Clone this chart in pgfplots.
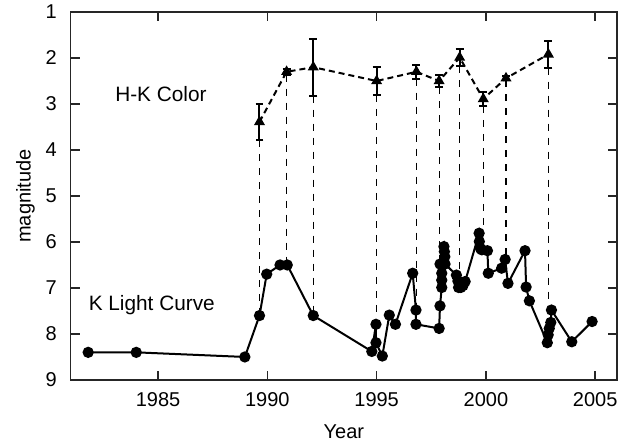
\documentclass[border=0pt]{standalone}
\usepackage{fontspec}
\setmainfont{Liberation Sans}
\usepackage{pgfplots}
\pgfplotsset{compat=1.18}
\begin{document}
\begin{tikzpicture}
\begin{axis}[
  scale only axis, width=273.2pt, height=184pt,
  xmin=1981, xmax=2006, ymin=1, ymax=9, y dir=reverse,
  xtick={1985,1990,1995,2000,2005}, ytick={1,2,3,4,5,6,7,8,9},
  tick align=inside, major tick length=4.5pt,
  axis line style={line width=0.8pt, black!85},
  every tick/.style={line width=0.8pt, black!85},
  /pgf/number format/assume math mode=true,
  /pgf/number format/set thousands separator={},
  xlabel={Year}, ylabel={magnitude},
  x label style={at={(axis description cs:0.5,-0.1413)}, anchor=center},
  y label style={at={(axis description cs:-0.0827,0.5)}, anchor=center},
  yticklabel style={xshift=-3.5pt},
  xticklabel style={yshift=-3pt},
]
% vertical connectors
\addplot[black, line width=0.6pt, dash pattern=on 3.5pt off 3.5pt] coordinates {(1989.64,3.79) (1989.64,7.6)};
\addplot[black, line width=0.6pt, dash pattern=on 3.5pt off 3.5pt] coordinates {(1990.88,2.36) (1990.88,6.5)};
\addplot[black, line width=0.6pt, dash pattern=on 3.5pt off 3.5pt] coordinates {(1992.10,2.82) (1992.10,7.6)};
\addplot[black, line width=0.6pt, dash pattern=on 3.5pt off 3.5pt] coordinates {(1995.00,2.80) (1995.00,7.78)};
\addplot[black, line width=0.6pt, dash pattern=on 3.5pt off 3.5pt] coordinates {(1996.82,2.45) (1996.82,7.46)};
\addplot[black, line width=0.6pt, dash pattern=on 3.5pt off 3.5pt] coordinates {(1997.86,2.64) (1997.86,6.45)};
\addplot[black, line width=0.6pt, dash pattern=on 3.5pt off 3.5pt] coordinates {(1998.80,2.18) (1998.80,6.72)};
\addplot[black, line width=0.6pt, dash pattern=on 3.5pt off 3.5pt] coordinates {(1999.88,3.04) (1999.88,5.75)};
\addplot[black, line width=0.6pt, dash pattern=on 3.5pt off 3.5pt] coordinates {(2000.92,2.48) (2000.92,6.35)};
\addplot[black, line width=0.6pt, dash pattern=on 3.5pt off 3.5pt] coordinates {(2002.86,2.21) (2002.86,7.45)};
% K light curve
\addplot[black, line width=1pt, mark=*, mark size=2.3pt] coordinates {
(1981.80,8.40) (1984.00,8.40) (1988.97,8.50) (1989.64,7.60) (1989.97,6.70)
(1990.58,6.50) (1990.91,6.50) (1992.10,7.60) (1994.78,8.38) (1994.97,7.79)
(1994.97,8.19) (1995.26,8.48) (1995.58,7.59) (1995.86,7.79) (1996.65,6.68)
(1996.80,7.48) (1996.80,7.79) (1997.86,7.88) (1997.90,7.39) (1997.98,6.99)
(1997.98,6.83) (1997.98,6.68) (1997.90,6.48) (1998.08,6.10) (1998.10,6.21)
(1998.12,6.32) (1998.13,6.48) (1998.65,6.72) (1998.72,6.85) (1998.75,6.99)
(1998.85,6.99) (1998.95,6.95) (1999.05,6.86) (1999.69,5.81) (1999.70,5.99)
(1999.75,6.14) (1999.81,6.17) (2000.07,6.19) (2000.11,6.68) (2000.72,6.57)
(2000.88,6.38) (2001.01,6.90) (2001.79,6.19) (2001.84,6.98) (2001.99,7.28)
(2002.81,8.19) (2002.85,8.02) (2002.90,7.88) (2002.97,7.75) (2003.00,7.48)
(2003.93,8.17) (2004.86,7.73)
};
% H-K color
\addplot[black, line width=1pt, dash pattern=on 3pt off 2pt, mark=triangle*, mark size=2.2pt, mark options={solid},
  error bars/.cd, y dir=both, y explicit,
  error bar style={solid, line width=1pt},
  error mark options={rotate=90, mark size=2pt, line width=1pt}] coordinates {
(1989.64,3.39) +- (0,0.40)
(1990.88,2.30) +- (0,0.06)
(1992.10,2.20) +- (0,0.62)
(1995.00,2.50) +- (0,0.30)
(1996.82,2.30) +- (0,0.15)
(1997.86,2.50) +- (0,0.14)
(1998.80,1.99) +- (0,0.19)
(1999.88,2.89) +- (0,0.15)
(2000.92,2.44) +- (0,0.04)
(2002.86,1.92) +- (0,0.29)
};
\node[font=\fontsize{10.4}{12}\selectfont] at (axis cs:1985.13,2.78) {H-K Color};
\node[font=\fontsize{10.4}{12}\selectfont] at (axis cs:1984.71,7.37) {K Light Curve};
\end{axis}
\pgfresetboundingbox
\path ([xshift=-35.35pt,yshift=-32pt]current axis.south west) rectangle ([xshift=5.5pt,yshift=6pt]current axis.north east);
\end{tikzpicture}
\end{document}
